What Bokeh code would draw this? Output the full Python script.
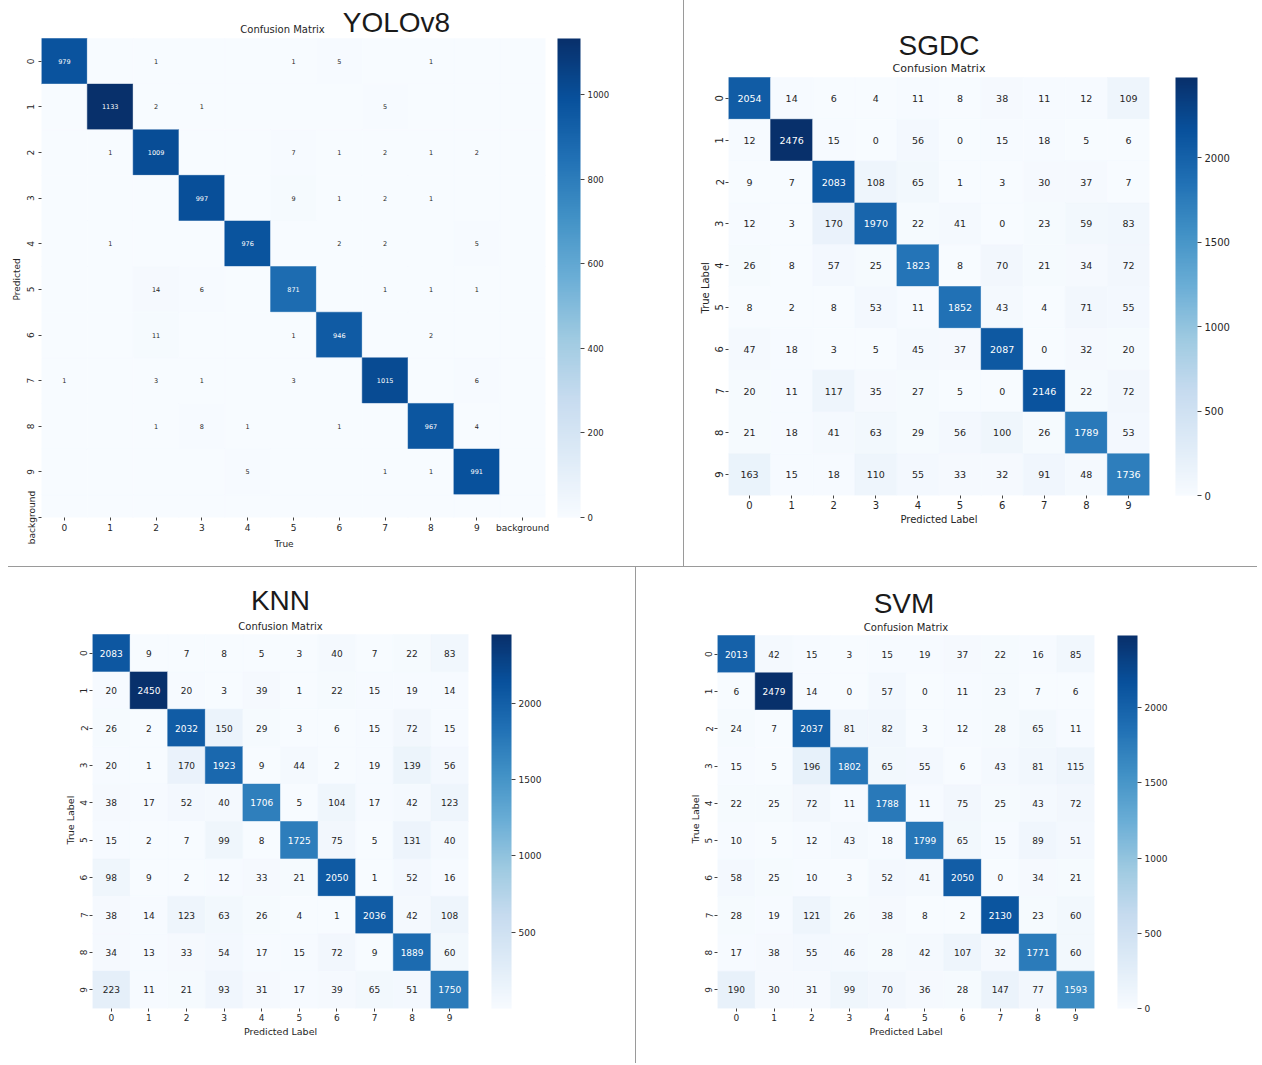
from bokeh.plotting import figure
from bokeh.models import (ColumnDataSource, LinearColorMapper, ColorBar, FixedTicker,
                          Range1d, Label, Div, Title)
from bokeh.layouts import row, column
from bokeh.palettes import Blues256
from bokeh.embed import file_html
from bokeh.resources import INLINE
from bokeh.core.properties import value

# ---------------- data ----------------
digit_labels = [str(i) for i in range(10)]
yolo_labels = digit_labels + ["background"]

# rows = Predicted, cols = True
yolo_matrix = [
    [979, 0, 1, 0, 0, 1, 5, 0, 1, 0, 0],
    [0, 1133, 2, 1, 0, 0, 0, 5, 0, 0, 0],
    [0, 1, 1009, 0, 0, 7, 1, 2, 1, 2, 0],
    [0, 0, 0, 997, 0, 9, 1, 2, 1, 0, 0],
    [0, 1, 0, 0, 976, 0, 2, 2, 0, 5, 0],
    [0, 0, 14, 6, 0, 871, 0, 1, 1, 1, 0],
    [0, 0, 11, 0, 0, 1, 946, 0, 2, 0, 0],
    [1, 0, 3, 1, 0, 3, 0, 1015, 0, 6, 0],
    [0, 0, 1, 8, 1, 0, 1, 0, 967, 4, 0],
    [0, 0, 0, 0, 5, 0, 0, 1, 1, 991, 0],
    [0, 0, 0, 0, 0, 0, 0, 0, 0, 0, 0],
]

# rows = True label, cols = Predicted label
sgdc_matrix = [
    [2054, 14, 6, 4, 11, 8, 38, 11, 12, 109],
    [12, 2476, 15, 0, 56, 0, 15, 18, 5, 6],
    [9, 7, 2083, 108, 65, 1, 3, 30, 37, 7],
    [12, 3, 170, 1970, 22, 41, 0, 23, 59, 83],
    [26, 8, 57, 25, 1823, 8, 70, 21, 34, 72],
    [8, 2, 8, 53, 11, 1852, 43, 4, 71, 55],
    [47, 18, 3, 5, 45, 37, 2087, 0, 32, 20],
    [20, 11, 117, 35, 27, 5, 0, 2146, 22, 72],
    [21, 18, 41, 63, 29, 56, 100, 26, 1789, 53],
    [163, 15, 18, 110, 55, 33, 32, 91, 48, 1736],
]

knn_matrix = [
    [2083, 9, 7, 8, 5, 3, 40, 7, 22, 83],
    [20, 2450, 20, 3, 39, 1, 22, 15, 19, 14],
    [26, 2, 2032, 150, 29, 3, 6, 15, 72, 15],
    [20, 1, 170, 1923, 9, 44, 2, 19, 139, 56],
    [38, 17, 52, 40, 1706, 5, 104, 17, 42, 123],
    [15, 2, 7, 99, 8, 1725, 75, 5, 131, 40],
    [98, 9, 2, 12, 33, 21, 2050, 1, 52, 16],
    [38, 14, 123, 63, 26, 4, 1, 2036, 42, 108],
    [34, 13, 33, 54, 17, 15, 72, 9, 1889, 60],
    [223, 11, 21, 93, 31, 17, 39, 65, 51, 1750],
]

svm_matrix = [
    [2013, 42, 15, 3, 15, 19, 37, 22, 16, 85],
    [6, 2479, 14, 0, 57, 0, 11, 23, 7, 6],
    [24, 7, 2037, 81, 82, 3, 12, 28, 65, 11],
    [15, 5, 196, 1802, 65, 55, 6, 43, 81, 115],
    [22, 25, 72, 11, 1788, 11, 75, 25, 43, 72],
    [10, 5, 12, 43, 18, 1799, 65, 15, 89, 51],
    [58, 25, 10, 3, 52, 41, 2050, 0, 34, 21],
    [28, 19, 121, 26, 38, 8, 2, 2130, 23, 60],
    [17, 38, 55, 46, 28, 42, 107, 32, 1771, 60],
    [190, 30, 31, 99, 70, 36, 28, 147, 77, 1593],
]

yolo_cbar_ticks = [0, 200, 400, 600, 800, 1000]
ml_cbar_ticks = [0, 500, 1000, 1500, 2000]

PALETTE = list(reversed(Blues256))
FONT = "DejaVu Sans"
TITLE_FONT = "Liberation Sans"
DARK = "#262626"
FRAME_TOP = 2  # frame starts near the figure top, titles are drawn inside it


def make_panel(matrix, labels, *, width, height, left, right, mat_top, bottom,
               visible_rows, name, name_dx, name_dy, sub_dx, sub_dy, sub_size,
               xlabel, ylabel, ylabel_offset, xlabel_offset, tick_size, annot_size,
               axis_size, cb_ticks, cb_size, cb_width, cb_gap, hide_zero):
    n_rows = len(matrix)
    n_cols = len(matrix[0])
    flat = [v for r in matrix for v in r]
    vmin, vmax = min(flat), max(flat)
    mapper = LinearColorMapper(palette=PALETTE, low=vmin, high=vmax)

    xs, ys, vals, texts, tcols = [], [], [], [], []
    for i, r in enumerate(matrix):
        for j, v in enumerate(r):
            xs.append(j)
            ys.append(i)
            vals.append(v)
            texts.append("" if (hide_zero and v == 0) else str(v))
            frac = (v - vmin) / (vmax - vmin)
            tcols.append("white" if frac > 0.47 else DARK)
    src = ColumnDataSource(dict(x=xs, y=ys, v=vals, t=texts, c=tcols))

    mat_px = height - bottom - mat_top          # pixel height of the visible matrix
    cell_h = mat_px / visible_rows
    y_bottom = -0.5 + visible_rows
    y_top = -0.5 - (mat_top - FRAME_TOP) / cell_h  # room for the titles

    p = figure(width=width, height=height,
               x_range=Range1d(-0.5, n_cols - 0.5),
               y_range=Range1d(y_bottom, y_top),
               output_backend="svg", toolbar_location=None,
               min_border_left=left, min_border_right=right,
               min_border_top=FRAME_TOP, min_border_bottom=bottom)
    p.frame_align = False
    p.grid.visible = False
    p.outline_line_color = None

    p.rect(x="x", y="y", width=1, height=1, source=src,
           fill_color={"field": "v", "transform": mapper},
           line_color={"field": "v", "transform": mapper}, line_width=0.5)
    p.text(x="x", y="y", text="t", source=src, text_color="c",
           text_align="center", text_baseline="middle",
           text_font=value(FONT), text_font_size=f"{annot_size}px")

    overrides = {i: lab for i, lab in enumerate(labels)}
    p.xaxis.ticker = FixedTicker(ticks=list(range(n_cols)))
    p.yaxis.ticker = FixedTicker(ticks=list(range(n_rows)))
    p.xaxis.major_label_overrides = overrides
    p.yaxis.major_label_overrides = overrides
    p.yaxis.major_label_orientation = "vertical"
    for ax in (p.xaxis, p.yaxis):
        ax.axis_line_color = None
        ax.major_tick_in = 0
        ax.major_tick_out = 3
        ax.major_tick_line_color = "#444444"
        ax.minor_tick_line_color = None
        ax.major_label_standoff = 2
        ax.major_label_text_font = FONT
        ax.major_label_text_font_size = f"{tick_size}px"
        ax.major_label_text_color = DARK
        ax.axis_label_text_font = FONT
        ax.axis_label_text_font_size = f"{axis_size}px"
        ax.axis_label_text_font_style = "normal"
        ax.axis_label_text_color = DARK
        ax.axis_label_standoff = 2

    # axis titles as side titles, so that they can sit beside the matrix itself
    p.add_layout(Title(text=ylabel, align="left", offset=ylabel_offset, standoff=4,
                       text_font=FONT, text_font_size=f"{axis_size}px",
                       text_font_style="normal", text_color=DARK), "left")
    if xlabel_offset is None:
        p.xaxis.axis_label = xlabel
    else:
        p.add_layout(Title(text=xlabel, align="left", offset=xlabel_offset, standoff=2,
                           text_font=FONT, text_font_size=f"{axis_size}px",
                           text_font_style="normal", text_color=DARK), "below")

    cb = ColorBar(color_mapper=mapper, ticker=FixedTicker(ticks=cb_ticks),
                  width=cb_width, height=int(round(mat_px)),
                  location=(cb_gap, 0), padding=0, margin=0,
                  bar_line_color=None, border_line_color=None, background_fill_color=None,
                  major_tick_in=0, major_tick_out=4, major_tick_line_color="#444444",
                  minor_tick_line_color=None, label_standoff=3,
                  major_label_text_font=FONT, major_label_text_font_size=f"{cb_size}px",
                  major_label_text_color=DARK)
    p.add_layout(cb, "right")

    cx = (n_cols - 1) / 2
    p.add_layout(Label(x=cx, y=-0.5, x_offset=name_dx, y_offset=name_dy, text=name,
                       text_align="center", text_baseline="middle",
                       text_font=TITLE_FONT, text_font_size="28px", text_color="#1a1a1a"))
    p.add_layout(Label(x=cx, y=-0.5, x_offset=sub_dx, y_offset=sub_dy, text="Confusion Matrix",
                       text_align="center", text_baseline="middle",
                       text_font=FONT, text_font_size=f"{sub_size}px", text_color=DARK))
    return p


p1 = make_panel(yolo_matrix, yolo_labels, width=683, height=566, left=41, right=138,
                mat_top=38, bottom=49, visible_rows=10.5,
                name="YOLOv8", name_dx=103, name_dy=16, sub_dx=-11, sub_dy=9,
                sub_size=10, xlabel="True", ylabel="Predicted", ylabel_offset=217,
                xlabel_offset=233, tick_size=9, annot_size=6.5,
                axis_size=9, cb_ticks=yolo_cbar_ticks, cb_size=8.5, cb_width=23, cb_gap=12,
                hide_zero=True)
p2 = make_panel(sgdc_matrix, digit_labels, width=576, height=566, left=44, right=111,
                mat_top=77, bottom=71, visible_rows=10,
                name="SGDC", name_dx=0, name_dy=32, sub_dx=0, sub_dy=9,
                sub_size=11, xlabel="Predicted Label", ylabel="True Label", ylabel_offset=182,
                xlabel_offset=None, tick_size=10,
                annot_size=9.5, axis_size=10, cb_ticks=ml_cbar_ticks, cb_size=10, cb_width=22,
                cb_gap=26, hide_zero=False)
p3 = make_panel(knn_matrix, digit_labels, width=635, height=496, left=92, right=167,
                mat_top=634 - 567, bottom=55, visible_rows=10,
                name="KNN", name_dx=0, name_dy=34, sub_dx=0, sub_dy=8,
                sub_size=10, xlabel="Predicted Label", ylabel="True Label", ylabel_offset=164,
                xlabel_offset=None, tick_size=9,
                annot_size=9, axis_size=9.5, cb_ticks=ml_cbar_ticks, cb_size=9, cb_width=20,
                cb_gap=23, hide_zero=False)
p4 = make_panel(svm_matrix, digit_labels, width=624, height=496, left=81, right=166,
                mat_top=635 - 567, bottom=55, visible_rows=10,
                name="SVM", name_dx=-2, name_dy=32, sub_dx=0, sub_dy=8,
                sub_size=10, xlabel="Predicted Label", ylabel="True Label", ylabel_offset=165,
                xlabel_offset=None, tick_size=9,
                annot_size=9, axis_size=9.5, cb_ticks=ml_cbar_ticks, cb_size=9, cb_width=20,
                cb_gap=23, hide_zero=False)

SEP = "#9a9a9a"
v1 = Div(width=1, height=566, margin=0, styles={"background-color": SEP})
hsep = Div(width=1249, height=1, margin=(0, 0, 0, 8), styles={"background-color": SEP})
v2 = Div(width=1, height=496, margin=0, styles={"background-color": SEP})

layout = column(row(p1, v1, p2), hsep, row(p3, v2, p4))

open("out.html", "w").write(file_html(layout, INLINE))
